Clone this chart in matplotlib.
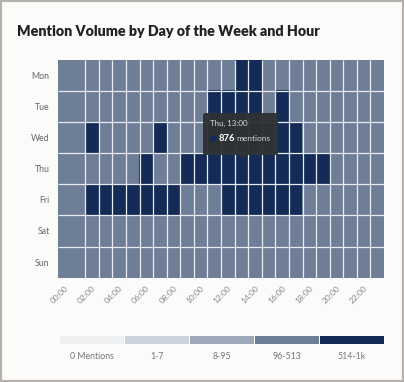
import matplotlib
matplotlib.use("Agg")
import matplotlib.pyplot as plt
import numpy as np
from matplotlib.colors import ListedColormap, BoundaryNorm
from matplotlib.patches import FancyBboxPatch, Rectangle, Polygon, Circle

days = ["Mon", "Tue", "Wed", "Thu", "Fri", "Sat", "Sun"]
hour_labels = ["00:00", "01:00", "02:00", "03:00", "04:00", "05:00", "06:00", "07:00",
               "08:00", "09:00", "10:00", "11:00", "12:00", "13:00", "14:00", "15:00",
               "16:00", "17:00", "18:00", "19:00", "20:00", "21:00", "22:00", "23:00"]

mon = [310, 280, 250, 220, 200, 190, 210, 260, 330, 400, 450, 480, 500, 560, 540, 470, 430, 390, 350, 320, 300, 290, 280, 270]
tue = [300, 270, 240, 210, 190, 180, 200, 250, 320, 410, 490, 560, 620, 650, 600, 500, 530, 460, 400, 350, 320, 300, 290, 280]
wed = [320, 290, 540, 230, 200, 190, 220, 580, 360, 430, 480, 520, 600, 640, 610, 560, 590, 540, 420, 370, 330, 310, 300, 290]
thu = [330, 300, 270, 240, 210, 200, 530, 320, 400, 560, 640, 720, 800, 876, 820, 760, 700, 650, 600, 560, 450, 380, 340, 310]
fri = [340, 310, 570, 600, 620, 640, 660, 680, 590, 460, 490, 500, 610, 680, 720, 700, 650, 580, 480, 420, 380, 350, 320, 300]
sat = [280, 260, 230, 200, 180, 170, 180, 210, 260, 320, 370, 400, 420, 430, 420, 400, 380, 360, 340, 320, 300, 290, 280, 270]
sun = [270, 250, 220, 190, 170, 160, 170, 200, 250, 300, 350, 380, 400, 410, 400, 390, 370, 350, 330, 310, 300, 290, 280, 260]

legend_labels = ["0 Mentions", "1-7", "8-95", "96-513", "514-1k"]
bounds = [0, 1, 8, 96, 514, 1001]
colors = ["#eef0f2", "#cdd3dc", "#9ea9ba", "#6f7e97", "#132b56"]

tooltip_day = "Thu"
tooltip_hour = "13:00"
tooltip_value = 876

data = np.array([mon, tue, wed, thu, fri, sat, sun])

bg = "#fbfbfa"
W, H = 404, 382
fig = plt.figure(figsize=(W / 100, H / 100), dpi=100, facecolor=bg)

def fx(px):
    return px / W

def fy(py):
    return 1 - py / H

# border
fig.patches.append(Rectangle((0, 0), 1, 1, transform=fig.transFigure, fill=False,
                             edgecolor="#b4b0ad", linewidth=3.0))

fig.text(fx(17), fy(36.5), "Mention Volume by Day of the Week and Hour",
         fontsize=10.3, fontweight="heavy", family="Lato", color="#222222", va="baseline")

cmap = ListedColormap(colors)
norm = BoundaryNorm(bounds, cmap.N)

ax = fig.add_axes([fx(58), fy(277.7), fx(384) - fx(58), fy(59.5) - fy(277.7)])
ax.set_facecolor(bg)
ax.imshow(data, cmap=cmap, norm=norm, aspect="auto", interpolation="nearest",
          extent=(-0.5, len(hour_labels) - 0.5, len(days) - 0.5, -0.5))
grid_c = "#e9ecf0"
ax.vlines(np.arange(1.5, len(hour_labels) - 0.5, 1), -0.5, len(days) - 0.5,
          color=grid_c, linewidth=0.9)
ax.hlines(np.arange(0.5, len(days) - 0.5, 1), -0.5, len(hour_labels) - 0.5,
          color=grid_c, linewidth=0.9)
ax.set_xlim(-0.5, len(hour_labels) - 0.5)
ax.set_ylim(len(days) - 0.5, -0.5)
for s in ax.spines.values():
    s.set_visible(False)
ax.set_yticks(range(len(days)))
ax.set_yticklabels(days, fontsize=6.3, color="#666666", family="Lato")
xt = list(range(0, len(hour_labels), 2))
ax.set_xticks(xt)
ax.set_xticklabels([hour_labels[i] for i in xt], fontsize=6.0, color="#888888", family="Lato",
                   rotation=45, ha="right", rotation_mode="anchor")
ax.tick_params(length=0, pad=6)
ax.tick_params(axis="x", pad=5)

# tooltip
x0, x1, y0, y1 = fx(203), fx(278), fy(155), fy(113)
tip_c = "#2e3234"
fig.patches.append(FancyBboxPatch((x0, y0), x1 - x0, y1 - y0, transform=fig.transFigure,
                                  boxstyle="round,pad=0,rounding_size=0.006",
                                  facecolor=tip_c, edgecolor="none", alpha=0.97, zorder=10))
fig.patches.append(Polygon([(fx(239), y0), (fx(247), y0), (fx(243), fy(159))],
                           closed=True, transform=fig.transFigure, facecolor=tip_c,
                           edgecolor="none", zorder=10))
fig.text(fx(210), fy(123.5), f"{tooltip_day}, {tooltip_hour}", fontsize=5.7, color="#d8d8d8",
         family="Lato", va="center", zorder=11)
fig.patches.append(Circle((fx(213.5), fy(138.5)), 0.0085, transform=fig.transFigure,
                          facecolor=colors[-1], edgecolor="none", zorder=11))
fig.text(fx(219), fy(138.5), f"{tooltip_value}", fontsize=6.8, fontweight="bold", color="white",
         family="Lato", va="center", zorder=11)
fig.text(fx(236.5), fy(138.5), "mentions", fontsize=6.0, color="#d8d8d8",
         family="Lato", va="center", zorder=11)

# legend
lx0, lx1 = 59, 384
seg = (lx1 - lx0) / len(colors)
for i, (c, lab) in enumerate(zip(colors, legend_labels)):
    fig.patches.append(Rectangle((fx(lx0 + i * seg + 0.5), fy(344)), fx(seg - 1.0), fy(336) - fy(344),
                                 transform=fig.transFigure, facecolor=c, edgecolor="none"))
    fig.text(fx(lx0 + (i + 0.5) * seg), fy(356.5), lab, fontsize=6.3, color="#777777",
             family="Lato", ha="center", va="center")

fig.savefig("out.png", dpi=100, facecolor=bg)
